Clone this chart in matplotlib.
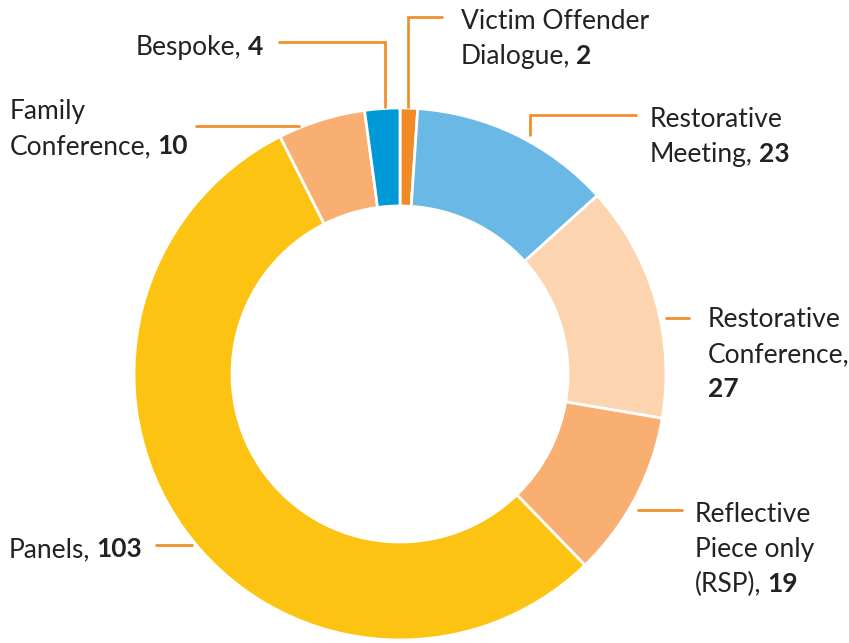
import matplotlib
matplotlib.use('Agg')
import matplotlib.pyplot as plt

W, H = 849, 643

labels = ['Victim Offender Dialogue', 'Restorative Meeting', 'Restorative Conference',
          'Reflective Piece only (RSP)', 'Panels', 'Family Conference', 'Bespoke']
values = [2, 23, 27, 19, 103, 10, 4]
colors = ['#F28A26', '#69B8E5', '#FCD5B0', '#F9AF72', '#FDC312', '#F9AF72', '#0099D8']

# text lines per label (last line gets the bold value appended)
label_lines = [
    ['Victim Offender', 'Dialogue,'],
    ['Restorative', 'Meeting,'],
    ['Restorative', 'Conference,', ''],
    ['Reflective', 'Piece only', '(RSP),'],
    ['Panels,'],
    ['Family', 'Conference,'],
    ['Bespoke,'],
]

# layout in pixels (y from top): text x, first baseline, alignment, leader path
layout = [
    dict(x=461, y=29, ha='left', path=[(408, 108), (408, 17), (443, 17)]),
    dict(x=650, y=127, ha='left', path=[(530, 136), (530, 115), (637, 115)]),
    dict(x=708, y=327, ha='left', path=[(665, 318), (690, 318)]),
    dict(x=695, y=522, ha='left', path=[(637, 510), (683, 510)]),
    dict(x=142, y=557, ha='right', path=[(155, 545), (193, 545)]),
    dict(x=10, y=119, ha='left', path=[(195, 126), (300, 126)]),
    dict(x=263, y=55, ha='right', path=[(278, 42), (385, 42), (385, 108)]),
]

FONT = 'Lato'
FS = 19
LINE = 35
TXT = '#222222'
LEAD = '#F28A26'

fig = plt.figure(figsize=(W / 100, H / 100), dpi=100)
ax = fig.add_axes([0, 0, 1, 1])

cx, cy, r = 400, 374, 266
ax.pie(values, colors=colors, startangle=90, counterclock=False,
       center=(cx, H - cy), radius=r,
       wedgeprops=dict(width=98, edgecolor='white', linewidth=2))
ax.set_xlim(0, W)
ax.set_ylim(0, H)
ax.set_aspect('equal')
ax.axis('off')

renderer = fig.canvas.get_renderer()


def px_w(t):
    bb = t.get_window_extent(renderer=renderer)
    return bb.width


for lines, val, lay in zip(label_lines, values, layout):
    xs = [p[0] for p in lay['path']]
    ys = [H - p[1] for p in lay['path']]
    ax.plot(xs, ys, color=LEAD, lw=1.9, solid_capstyle='butt', solid_joinstyle='miter')
    for i, line in enumerate(lines):
        y = H - (lay['y'] + i * LINE)
        last = i == len(lines) - 1
        if not last:
            ax.text(lay['x'], y, line, ha=lay['ha'], va='baseline',
                    fontsize=FS, family=FONT, color=TXT)
            continue
        if line == '':
            ax.text(lay['x'], y, str(val), ha='left', va='baseline',
                    fontsize=FS, family=FONT, color=TXT, fontweight='bold')
        elif lay['ha'] == 'left':
            t = ax.text(lay['x'], y, line, ha='left', va='baseline',
                        fontsize=FS, family=FONT, color=TXT)
            ax.text(lay['x'] + px_w(t) + 6, y, str(val), ha='left', va='baseline',
                    fontsize=FS, family=FONT, color=TXT, fontweight='bold')
        else:
            b = ax.text(lay['x'], y, str(val), ha='right', va='baseline',
                        fontsize=FS, family=FONT, color=TXT, fontweight='bold')
            ax.text(lay['x'] - px_w(b) - 6, y, line, ha='right', va='baseline',
                    fontsize=FS, family=FONT, color=TXT)

fig.savefig('out.png', dpi=100)
